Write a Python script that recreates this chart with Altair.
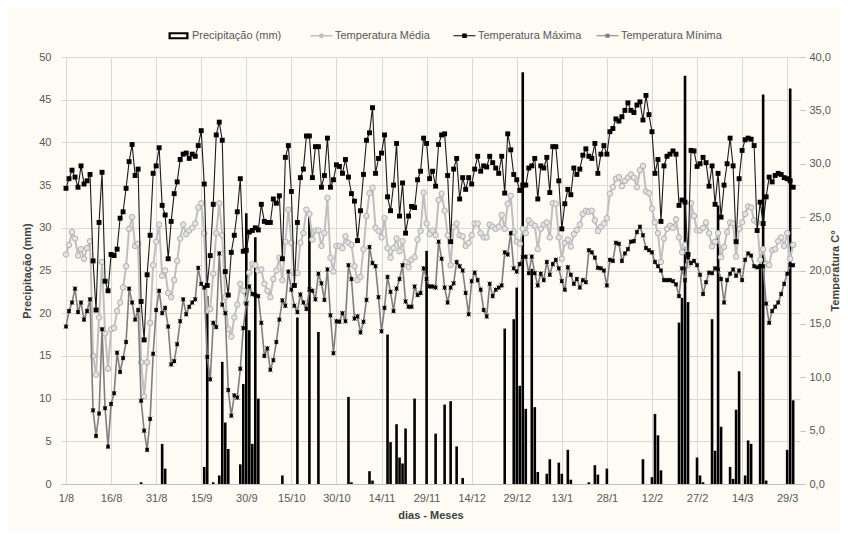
import json
import altair as alt
import pandas as pd

# ---------------- data ----------------
x_labels = ["1/8", "16/8", "31/8", "15/9", "30/9", "15/10", "30/10", "14/11", "29/11",
            "14/12", "29/12", "13/1", "28/1", "12/2", "27/2", "14/3", "29/3"]

tmax = [
    27.7, 28.6, 29.4, 28.75, 27.8, 29.8, 28.1, 28.4, 29.0, 20.9,
    16.3, 24.5, 29.2, 19.0, 18.1, 21.5, 21.4, 22.0, 24.9, 25.5,
    27.7, 30.2, 31.8, 28.9, 29.5, 17.1, 13.5, 19.6, 23.3, 29.1,
    29.8, 31.5, 26.1, 25.2, 21.1, 24.6, 27.2, 28.3, 30.4, 30.9,
    31.0, 30.5, 30.9, 30.7, 31.7, 33.1, 28.1, 18.6, 21.4, 26.2,
    32.7, 33.9, 32.2, 19.9, 17.7, 21.7, 23.3, 25.5, 28.6, 21.8,
    21.9, 23.6, 23.75, 24.0, 23.8, 26.2, 24.6, 24.5, 24.5, 26.7,
    26.3, 27.0, 21.1, 30.6, 31.7, 27.4, 18.6, 24.5, 28.7, 29.5,
    32.6, 32.6, 28.7, 31.6, 31.6, 27.8, 28.9, 32.4, 27.8, 28.5,
    29.9, 29.75, 29.1, 30.4, 28.75, 27.2, 26.5, 22.8, 25.6, 29.0,
    32.2, 32.9, 35.25, 29.1, 30.5, 31.0, 32.7, 26.9, 25.6, 28.0,
    31.9, 25.1, 28.2, 23.5, 25.1, 26.0, 25.9, 28.5, 29.3, 32.4,
    31.9, 28.6, 29.3, 27.9, 31.8, 32.7, 32.8, 28.9, 22.7, 29.5,
    30.5, 26.7, 28.7, 27.6, 28.7, 28.1, 29.5, 30.7, 29.3, 29.8,
    29.7, 30.7, 30.1, 29.6, 29.1, 30.7, 27.25, 32.8, 31.3, 29.0,
    28.5, 27.5, 28.0, 28.0, 29.6, 29.8, 30.5, 26.7, 29.8, 29.6,
    30.6, 27.3, 31.6, 31.6, 28.4, 23.9, 26.25, 27.6, 27.1, 29.6,
    29.0, 29.5, 30.8, 31.4, 30.7, 30.5, 31.9, 29.1, 30.9, 31.7,
    30.9, 33.0, 33.3, 34.2, 34.0, 34.4, 35.0, 35.7, 35.0, 34.8,
    35.5, 35.8, 34.1, 36.4, 34.6, 33.0, 29.1, 30.4, 24.6, 29.8,
    30.7, 30.9, 31.2, 30.9, 26.1, 26.6, 26.4, 21.5, 31.25, 31.2,
    29.75, 30.0, 30.6, 30.1, 27.9, 29.8, 26.2, 29.1, 25.0, 28.0,
    30.0, 32.4, 29.8, 22.7, 28.6, 31.25, 32.25, 32.4, 32.3, 31.7,
    23.75, 26.4, 24.4, 26.9, 28.75, 28.3, 28.9, 29.1, 29.0, 28.7,
    28.6, 28.4, 27.8,
]

tmed = [
    21.5, 22.4, 23.6, 23.0, 21.4, 22.0, 21.1, 22.1, 22.75, 12.0,
    10.25, 15.6, 20.8, 14.1, 10.8, 14.5, 14.6, 16.2, 17.0, 18.4,
    20.4, 23.9, 25.0, 22.3, 22.5, 11.4, 8.2, 11.4, 15.1, 20.5,
    22.7, 24.3, 19.5, 20.0, 17.9, 17.5, 19.1, 20.9, 23.0, 24.3,
    23.4, 23.75, 24.0, 24.4, 25.9, 26.3, 23.5, 16.25, 16.4, 19.7,
    23.5, 26.3, 23.3, 17.5, 14.5, 13.8, 15.6, 16.8, 18.75, 18.1,
    17.0, 19.8, 20.6, 20.5, 20.0, 20.1, 18.75, 18.1, 17.5, 19.2,
    20.0, 21.2, 19.1, 22.7, 25.7, 22.6, 19.75, 19.75, 22.6, 23.5,
    25.7, 25.3, 22.9, 23.75, 23.75, 22.3, 23.5, 26.8, 21.2, 19.9,
    22.3, 22.3, 22.1, 23.2, 22.6, 22.4, 20.4, 19.1, 19.4, 22.0,
    25.1, 27.25, 27.75, 24.0, 23.7, 23.1, 24.9, 22.1, 21.2, 22.1,
    23.0, 21.8, 22.75, 20.8, 20.3, 21.0, 21.25, 22.9, 23.7, 27.3,
    24.4, 23.4, 23.75, 23.3, 26.6, 27.2, 25.6, 23.3, 20.5, 24.1,
    24.4, 23.3, 23.2, 22.3, 22.6, 23.3, 24.4, 24.4, 23.5, 23.1,
    23.1, 24.3, 24.1, 23.9, 24.1, 25.2, 23.9, 26.25, 27.0, 23.6,
    22.7, 22.5, 23.9, 23.5, 24.7, 24.4, 24.2, 22.0, 23.9, 24.3,
    24.5, 23.1, 26.3, 26.25, 23.1, 21.1, 22.6, 22.9, 22.25, 23.4,
    23.8, 24.3, 25.3, 25.6, 25.5, 25.6, 24.7, 23.7, 24.1, 24.4,
    24.9, 27.2, 27.8, 28.6, 28.75, 27.9, 28.4, 28.7, 29.0, 28.7,
    27.8, 29.4, 29.8, 27.4, 27.25, 25.8, 24.5, 23.5, 20.8, 23.0,
    23.9, 24.2, 24.0, 24.8, 23.1, 21.7, 22.4, 20.5, 26.3, 25.1,
    23.75, 23.75, 24.0, 24.5, 23.5, 22.25, 22.7, 23.5, 21.25, 22.2,
    23.6, 24.5, 24.4, 21.3, 23.9, 24.5, 25.3, 26.0, 25.9, 24.7,
    24.5, 21.0, 22.0, 20.6, 20.5, 21.9, 22.0, 22.75, 23.1, 22.3,
    23.5, 21.1, 22.4,
]

tmin = [
    14.75, 16.2, 17.0, 18.3, 16.1, 17.0, 15.4, 16.2, 17.3, 6.9,
    4.5, 6.6, 14.5, 7.1, 3.5, 7.5, 8.5, 12.3, 10.5, 11.8,
    13.3, 18.3, 17.0, 15.4, 16.3, 7.8, 5.0, 3.2, 6.1, 12.2,
    16.3, 18.1, 16.0, 16.5, 14.75, 11.2, 11.5, 13.1, 15.25, 17.3,
    15.9, 16.6, 17.0, 17.3, 20.25, 18.75, 18.4, 11.9, 9.8, 15.1,
    14.7, 21.6, 16.8, 16.0, 8.8, 6.4, 8.3, 8.1, 10.8, 14.6,
    16.9, 18.5, 17.8, 17.7, 17.6, 15.1, 12.0, 12.7, 10.7, 11.6,
    13.3, 15.4, 17.2, 16.7, 19.9, 18.2, 16.7, 16.1, 17.75, 17.0,
    16.4, 18.2, 18.1, 17.3, 19.7, 18.8, 17.25, 20.1, 15.8, 12.25,
    15.25, 15.2, 16.0, 15.25, 20.5, 19.2, 15.5, 15.7, 14.2, 15.2,
    17.25, 22.2, 20.7, 20.4, 17.5, 14.3, 16.5, 19.4, 18.0, 16.2,
    18.3, 19.2, 20.5, 17.1, 16.6, 16.6, 18.5, 17.7, 17.9, 20.2,
    19.2, 18.5, 18.5, 18.4, 22.7, 21.1, 18.4, 17.0, 18.4, 18.8,
    20.8, 20.4, 20.0, 17.9, 15.9, 19.0, 19.8, 19.1, 18.2, 16.3,
    15.7, 18.75, 17.6, 18.2, 18.4, 18.6, 21.7, 21.5, 23.5, 20.2,
    19.9, 20.6, 21.25, 21.3, 19.75, 21.3, 19.75, 18.6, 19.7, 19.1,
    20.8, 19.6, 20.6, 21.0, 20.2, 19.0, 18.2, 20.3, 19.6, 18.75,
    19.2, 18.4, 19.1, 18.9, 21.9, 21.7, 21.2, 20.25, 20.2, 20.0,
    18.6, 21.0, 20.9, 22.6, 22.5, 20.9, 21.6, 22.0, 22.7, 22.75,
    23.6, 24.1, 23.3, 22.1, 21.9, 21.7, 20.8, 20.4, 20.0, 19.1,
    19.1, 19.1, 19.0, 18.7, 17.6, 20.2, 19.1, 21.25, 20.7, 20.9,
    20.5, 19.6, 17.8, 18.9, 19.8, 19.75, 20.2, 20.1, 19.2, 17.0,
    19.1, 19.7, 20.1, 19.5, 20.0, 19.1, 21.0, 21.6, 21.4, 20.4,
    20.3, 20.4, 20.4, 16.9, 15.1, 16.2, 16.6, 17.0, 17.8, 18.75,
    19.7, 20.5, 20.5,
]

# rainy days (day index counted from 1/8) and precipitation (mm)
precip_dias = [25, 32, 33, 46, 47, 49, 51, 52, 53, 54, 58, 59, 60, 61, 62, 63, 64, 72, 77, 81,
               84, 94, 95, 101, 102, 107, 108, 110, 111, 112, 113, 116, 120, 123, 126, 128, 130, 132,
               146, 149, 150, 151, 152, 153, 155, 156, 157, 160, 161, 164, 165, 167, 168, 174, 176,
               177, 180, 192, 195, 196, 197, 198, 204, 205, 206, 207, 210, 211, 212, 215, 216, 217,
               218, 221, 222, 223, 224, 226, 227, 228, 231, 232, 233, 240, 241, 242]
precip_mm = [0.2, 4.7, 1.8, 2.0, 22.0, 0.2, 1.0, 14.3, 7.2, 4.1, 2.3, 11.7, 31.7, 18.0, 4.7, 28.9, 10.0, 1.0, 19.5, 31.2,
             17.8, 10.2, 0.2, 1.5, 0.4, 17.5, 4.9, 7.0, 3.1, 2.4, 6.5, 10.0, 27.3, 5.9, 9.3, 9.7, 4.4, 0.7,
             18.2, 19.3, 23.0, 11.5, 48.2, 8.8, 25.2, 9.0, 1.4, 1.2, 2.9, 2.5, 1.2, 4.0, 0.5, 0.2, 2.2,
             1.1, 1.8, 2.9, 0.8, 8.2, 5.7, 1.6, 18.9, 21.8, 47.8, 21.3, 3.1, 1.0, 0.2, 19.3, 3.9, 32.6,
             6.7, 2.0, 0.6, 8.7, 13.2, 1.0, 5.1, 4.7, 25.8, 45.6, 0.4, 4.0, 46.3, 9.8]

series_names = ["Precipitação (mm)", "Temperatura Média", "Temperatura Máxima", "Temperatura Mínima"]
series_colors = ["#000000", "#BFBFBF", "#000000", "#7F7F7F"]

# ---------------- frames ----------------
n = len(tmax)
temp_df = pd.DataFrame({"dia": list(range(n)), "tmax": tmax, "tmed": tmed, "tmin": tmin})
rain_df = pd.DataFrame({"dia": precip_dias, "precip": precip_mm})
legend_df = pd.DataFrame({"serie": series_names})

FONT = "Liberation Sans, Arial, sans-serif"
TXT = "#595959"
GRID = "#D9D9D9"

label_expr = json.dumps(x_labels) + "[round(datum.value / 15)]"

x_enc = alt.X(
    "dia:Q",
    scale=alt.Scale(domain=[0, 242.6], nice=False, zero=False),
    axis=alt.Axis(
        values=list(range(0, 241, 15)), labelExpr=label_expr, title="dias - Meses",
        grid=True, gridColor=GRID, ticks=False, domainColor="#BFBFBF",
        labelPadding=8, titlePadding=6, labelFontSize=11, titleFontSize=11,
    ),
)

bars = alt.Chart(rain_df).mark_bar(color="#000000", size=2.6).encode(
    x=x_enc,
    y=alt.Y(
        "precip:Q",
        scale=alt.Scale(domain=[0, 50], nice=False),
        axis=alt.Axis(
            orient="left", values=list(range(0, 51, 5)), title="Precipitação (mm)",
            grid=True, gridColor=GRID, ticks=False, domain=False,
            labelPadding=10, titlePadding=6, labelFontSize=11, titleFontSize=11,
        ),
    ),
)

y_temp_axis = alt.Axis(
    orient="right", values=list(range(0, 41, 5)), title="Temperatura C°",
    labelExpr="replace(format(datum.value, '.1f'), '.', ',')",
    grid=False, ticks=True, tickSize=5, tickColor="#BFBFBF", domain=False,
    labelPadding=4, titlePadding=10, titleAngle=-90, labelFontSize=11, titleFontSize=11,
)
y_scale = alt.Scale(domain=[0, 40], nice=False)

base = alt.Chart(temp_df)


def y_of(field):
    return alt.Y(f"{field}:Q", scale=y_scale, axis=y_temp_axis)


med_line = base.mark_line(color="#BFBFBF", strokeWidth=2).encode(x=x_enc, y=y_of("tmed"))
med_pts = base.mark_point(shape="circle", filled=True, fill="#E4E4E4", stroke="#B0B0B0",
                          strokeWidth=1, size=30, opacity=1).encode(x=x_enc, y=y_of("tmed"))
max_line = base.mark_line(color="#1A1A1A", strokeWidth=1.1).encode(x=x_enc, y=y_of("tmax"))
max_pts = base.mark_point(shape="square", filled=True, color="#000000", size=24,
                          opacity=1).encode(x=x_enc, y=y_of("tmax"))
min_line = base.mark_line(color="#7F7F7F", strokeWidth=1.6).encode(x=x_enc, y=y_of("tmin"))
star = "M-0.6,-0.6H0.6V0.6H-0.6Z M-1,-1L1,1 M1,-1L-1,1 M0,-1.1V1.1"
min_pts = base.mark_point(shape=star, filled=True, fill="#000000", stroke="#000000",
                          strokeWidth=0.8, size=18, opacity=1).encode(x=x_enc, y=y_of("tmin"))

# legend symbols drawn as filled areas (line = thin rectangle)
legend_paths = [
    "M-2,-0.7H2V0.7H-2Z M-1.55,-0.32V0.32H1.55V-0.32Z",
    "M-2.2,-0.15H2.2V0.15H-2.2Z M0.5,0A0.5,0.5 0 1,1 -0.5,0A0.5,0.5 0 1,1 0.5,0Z",
    "M-2.2,-0.12H2.2V0.12H-2.2Z M-0.45,-0.45H0.45V0.45H-0.45Z",
    "M-2.2,-0.12H2.2V0.12H-2.2Z M-0.42,-0.42H0.42V0.42H-0.42Z",
]
leg = alt.Legend(
    title=None, orient="none", legendX=112, legendY=-27, direction="horizontal",
    symbolSize=100, labelFontSize=11, labelColor=TXT, labelFont=FONT, labelOffset=8,
    columnPadding=14, gridAlign="all", symbolOpacity=1, symbolStrokeWidth=0,
)
legend_layer = alt.Chart(legend_df).transform_filter("false").mark_point(filled=True).encode(
    color=alt.Color("serie:N", scale=alt.Scale(domain=series_names, range=series_colors), legend=leg),
    shape=alt.Shape("serie:N", scale=alt.Scale(domain=series_names, range=legend_paths), legend=leg),
)

temps = alt.layer(med_line, med_pts, max_line, max_pts, min_line, min_pts, legend_layer)

chart = alt.layer(bars, temps).resolve_scale(y="independent").properties(
    width=739, height=427,
    background="#FDFBF4",
    padding={"left": 53, "top": 49, "right": 40, "bottom": 46},
    autosize=alt.AutoSizeParams(type="none"),
).configure_view(stroke=None).configure_axis(
    labelFont=FONT, titleFont=FONT, labelColor=TXT, titleColor="#404040",
    titleFontWeight="bold",
).configure_legend(labelFont=FONT)

chart.save("out.html", embed_options={"renderer": "svg", "actions": False})
